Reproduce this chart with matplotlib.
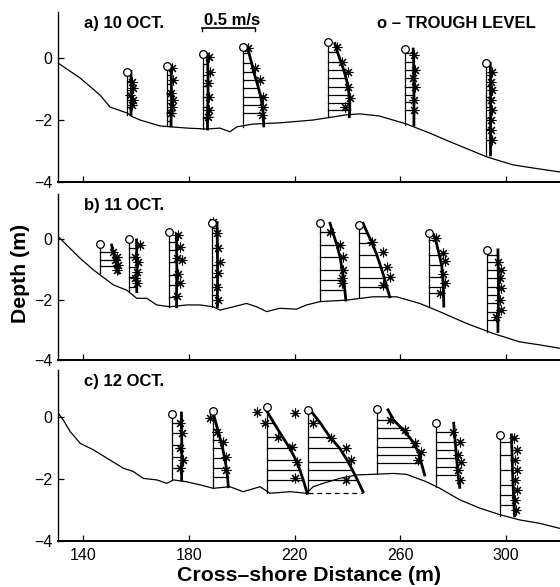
import numpy as np
import matplotlib
matplotlib.use('Agg')
import matplotlib.pyplot as plt

plt.rcParams['font.family'] = ['Liberation Sans', 'DejaVu Sans']

SCALE = 40.0  # metres of cross-shore distance drawn per 1 m/s of velocity

panel_titles = ['a) 10 OCT.', 'b) 11 OCT.', 'c) 12 OCT.']
x_ticks = [140, 180, 220, 260, 300]
y_ticks = [-4, -2, 0]

# ---- bathymetry (cross-shore distance m, depth m)
a_bed_x = [130.5, 138.8, 146.3, 150.1, 156.5, 158.8, 161.5, 169.0, 179.2, 186.8, 191.7, 195.5, 198.1,
           204.2, 214.4, 226.9, 239.7, 244.7, 252.2, 262.4, 271.1, 279.9, 292.7, 302.6, 310.1, 320.3]
a_bed_z = [-0.17, -0.65, -1.20, -1.59, -1.78, -1.91, -2.01, -2.20, -2.27, -2.30, -2.27, -2.39, -2.23,
           -2.14, -2.10, -2.01, -1.84, -1.81, -1.88, -2.14, -2.43, -2.75, -3.20, -3.46, -3.56, -3.69]
b_bed_x = [130.5, 133.7, 138.8, 143.8, 151.4, 156.4, 160.2, 164.0, 167.8, 172.8, 179.1, 184.2, 189.2,
           191.7, 196.8, 201.8, 205.6, 209.4, 214.4, 220.7, 224.5, 229.6, 239.7, 249.7, 258.6, 267.4,
           274.9, 285.1, 295.1, 305.2, 312.8, 320.3]
b_bed_z = [0.08, -0.20, -0.64, -1.02, -1.52, -1.69, -1.96, -1.96, -2.18, -2.24, -2.18, -2.18, -2.24,
           -2.35, -2.24, -2.13, -2.24, -2.40, -2.29, -2.32, -2.18, -2.07, -2.02, -1.91, -1.91, -2.13,
           -2.40, -2.79, -3.12, -3.40, -3.50, -3.61]
c_bed_x = [130.5, 132.4, 135.0, 138.8, 143.8, 150.1, 155.1, 158.9, 162.7, 167.8, 171.6, 174.1, 179.1,
           184.2, 189.2, 195.5, 200.5, 206.9, 210.7, 218.2, 224.5, 227.0, 230.8, 237.1, 243.4, 252.3,
           257.3, 262.4, 264.9, 269.9, 275.0, 282.5, 290.1, 297.7, 305.2, 312.8, 320.3]
c_bed_z = [0.11, -0.11, -0.48, -0.86, -1.07, -1.40, -1.66, -1.77, -1.99, -2.04, -2.15, -2.04, -2.10,
           -2.20, -2.31, -2.26, -2.42, -2.26, -2.47, -2.42, -2.47, -2.26, -2.15, -1.99, -1.88, -1.85,
           -1.83, -1.86, -1.94, -2.10, -2.31, -2.68, -2.95, -3.16, -3.33, -3.44, -3.60]

# ---- 10 Oct profiles
a_x0 = [156.4, 171.6, 185.4, 200.3, 232.7, 261.7, 292.3]
a_trough = [-0.44, -0.26, 0.13, 0.37, 0.53, 0.29, -0.17]
a_bottom = [-1.84, -2.20, -2.30, -2.22, -1.92, -2.17, -3.14]
a_fit_z = [[-0.44, -0.75, -1.05, -1.35, -1.60, -1.84],
           [-0.26, -0.55, -0.85, -1.15, -1.45, -1.75, -2.05, -2.20],
           [0.13, -0.20, -0.55, -0.90, -1.25, -1.60, -1.95, -2.30],
           [0.37, 0.16, -0.16, -0.45, -0.71, -0.97, -1.26, -1.52, -1.78, -2.20],
           [0.47, 0.20, -0.12, -0.39, -0.66, -0.93, -1.20, -1.47, -1.68, -1.90],
           [0.29, 0.15, -0.12, -0.39, -0.66, -0.93, -1.20, -1.41, -1.68, -2.17],
           [-0.17, -0.55, -0.90, -1.25, -1.60, -1.95, -2.30, -2.65, -3.14]]
a_fit_u = [[0.040, 0.042, 0.045, 0.045, 0.042, 0.040],
           [0.040, 0.042, 0.042, 0.045, 0.045, 0.042, 0.040, 0.040],
           [0.040, 0.042, 0.045, 0.045, 0.045, 0.042, 0.040, 0.040],
           [0.037, 0.060, 0.085, 0.105, 0.128, 0.150, 0.172, 0.185, 0.195, 0.200],
           [0.063, 0.087, 0.120, 0.148, 0.170, 0.190, 0.198, 0.204, 0.205, 0.200],
           [0.080, 0.082, 0.085, 0.085, 0.085, 0.087, 0.087, 0.087, 0.087, 0.087],
           [0.045, 0.047, 0.047, 0.048, 0.048, 0.048, 0.047, 0.047, 0.047]]
a_obs_z = [[-0.77, -0.98, -1.20, -1.36, -1.52],
           [-0.33, -0.71, -1.14, -1.36, -1.58, -1.79],
           [0.04, -0.44, -0.82, -1.25, -1.68, -1.90],
           [0.31, -0.33, -0.71, -1.25, -1.58, -1.84],
           [0.37, -0.12, -0.44, -0.93, -1.30, -1.58],
           [0.10, -0.39, -0.66, -0.93, -1.36, -1.68],
           [-0.44, -0.77, -1.04, -1.36, -1.68, -2.01, -2.33, -2.65]]
a_obs_u = [[0.053, 0.063, 0.030, 0.063, 0.048],
           [0.050, 0.062, 0.040, 0.060, 0.050, 0.042],
           [0.050, 0.060, 0.048, 0.058, 0.050, 0.045],
           [0.053, 0.120, 0.163, 0.195, 0.195, 0.180],
           [0.080, 0.128, 0.190, 0.190, 0.205, 0.158],
           [0.085, 0.095, 0.080, 0.095, 0.085, 0.092],
           [0.060, 0.055, 0.065, 0.050, 0.060, 0.055, 0.050, 0.060]]

# ---- 11 Oct profiles
b_x0 = [146.3, 157.4, 172.5, 188.6, 229.6, 244.4, 270.8, 293.0]
b_trough = [-0.18, -0.01, 0.22, 0.54, 0.54, 0.46, 0.19, -0.36]
b_bottom = [-1.11, -1.74, -2.24, -2.24, -2.02, -1.91, -2.24, -3.06]
b_fit_z = [[-0.20, -0.42, -0.69, -0.90, -1.13],
           [-0.03, -0.31, -0.59, -0.92, -1.25, -1.58, -1.74],
           [0.15, -0.10, -0.36, -0.75, -1.19, -1.52, -1.91, -2.24],
           [0.54, 0.35, -0.31, -0.86, -1.25, -1.58, -1.85, -2.24],
           [0.52, 0.24, -0.20, -0.59, -1.02, -1.36, -1.69, -2.02],
           [0.52, 0.19, -0.14, -0.53, -0.91, -1.30, -1.57, -1.91],
           [0.14, -0.03, -0.53, -0.86, -1.25, -1.58, -1.80, -2.22],
           [-0.36, -0.53, -0.75, -1.02, -1.30, -1.58, -1.85, -2.13, -2.40, -2.68, -3.06]]
b_fit_u = [[0.110, 0.125, 0.145, 0.160, 0.173],
           [0.068, 0.070, 0.070, 0.072, 0.072, 0.070, 0.070],
           [0.068, 0.070, 0.070, 0.072, 0.072, 0.070, 0.070, 0.070],
           [0.050, 0.052, 0.053, 0.055, 0.055, 0.055, 0.053, 0.053],
           [0.095, 0.120, 0.160, 0.190, 0.210, 0.225, 0.235, 0.245],
           [0.038, 0.080, 0.125, 0.168, 0.205, 0.240, 0.262, 0.290],
           [0.047, 0.065, 0.100, 0.122, 0.132, 0.138, 0.140, 0.142],
           [0.100, 0.100, 0.102, 0.102, 0.105, 0.105, 0.105, 0.103, 0.103, 0.100, 0.100]]
b_obs_z = [[-0.42, -0.59, -0.69, -0.86, -1.02],
           [-0.20, -0.59, -0.75, -1.08, -1.30, -1.46],
           [0.13, -0.25, -0.64, -0.70, -1.14, -1.46, -1.90],
           [0.57, 0.19, -0.31, -0.75, -1.13, -1.58, -2.02],
           [0.24, -0.20, -0.59, -1.02, -1.30, -1.46],
           [-0.09, -0.42, -0.92, -1.25, -1.52],
           [0.03, -0.46, -0.73, -1.17, -1.45, -1.78],
           [-0.75, -1.02, -1.30, -1.63, -2.02, -2.35, -2.57]]
b_obs_u = [[0.125, 0.158, 0.143, 0.173, 0.158],
           [0.100, 0.055, 0.085, 0.070, 0.055, 0.070],
           [0.085, 0.100, 0.070, 0.118, 0.085, 0.100, 0.070],
           [0.015, 0.048, 0.063, 0.078, 0.063, 0.048, 0.063],
           [0.095, 0.190, 0.220, 0.220, 0.205, 0.205],
           [0.118, 0.228, 0.260, 0.290, 0.228],
           [0.073, 0.136, 0.150, 0.136, 0.150, 0.104],
           [0.100, 0.130, 0.117, 0.130, 0.117, 0.130, 0.085]]

# ---- 12 Oct profiles
c_x0 = [173.4, 189.2, 209.4, 225.1, 251.2, 273.7, 297.7]
c_trough = [0.09, 0.19, 0.32, 0.22, 0.24, -0.19, -0.59]
c_bottom = [-2.04, -2.31, -2.47, -2.47, -1.85, -2.28, -3.20]
c_dashed = [False, False, False, True, False, False, False]
c_fit_z = [[0.12, -0.21, -0.54, -0.91, -1.29, -1.66, -2.04],
           [0.11, -0.40, -0.75, -1.02, -1.34, -1.66, -1.95, -2.26],
           [0.22, -0.21, -0.65, -1.02, -1.40, -1.72, -2.04, -2.47],
           [0.16, -0.21, -0.65, -1.02, -1.45, -1.72, -2.04, -2.42],
           [0.22, -0.11, -0.37, -0.70, -0.97, -1.24, -1.50, -1.88],
           [-0.21, -0.48, -0.81, -1.08, -1.34, -1.61, -1.88, -2.28],
           [-0.59, -0.81, -1.24, -1.72, -2.20, -2.53, -2.85, -3.20]]
c_fit_u = [[0.093, 0.095, 0.095, 0.097, 0.097, 0.095, 0.095],
           [0.000, 0.040, 0.068, 0.088, 0.108, 0.124, 0.135, 0.142],
           [-0.005, 0.070, 0.150, 0.220, 0.277, 0.315, 0.346, 0.384],
           [0.032, 0.117, 0.205, 0.300, 0.378, 0.420, 0.467, 0.520],
           [0.104, 0.158, 0.231, 0.316, 0.366, 0.404, 0.420, 0.451],
           [0.164, 0.170, 0.178, 0.185, 0.190, 0.198, 0.205, 0.220],
           [0.110, 0.112, 0.116, 0.120, 0.126, 0.130, 0.135, 0.140]]
c_obs_z = [[-0.21, -0.54, -1.02, -1.40, -1.66],
           [-0.05, -0.48, -0.83, -1.30, -1.72],
           [0.16, -0.21, -0.65, -0.97, -1.45, -1.99],
           [0.11, -0.21, -0.70, -1.02, -1.40, -2.04],
           [-0.11, -0.43, -0.86, -1.13, -1.40],
           [-0.48, -0.81, -1.24, -1.45, -1.72, -2.04],
           [-0.70, -1.07, -1.40, -1.72, -2.04, -2.36, -2.69, -3.01]]
c_obs_u = [[0.078, 0.095, 0.078, 0.105, 0.078],
           [-0.035, 0.035, 0.090, 0.120, 0.125],
           [-0.095, -0.015, 0.110, 0.236, 0.283, 0.268],
           [-0.126, 0.047, 0.220, 0.363, 0.410, 0.363],
           [0.120, 0.262, 0.357, 0.420, 0.388],
           [0.157, 0.220, 0.205, 0.236, 0.205, 0.220],
           [0.130, 0.160, 0.140, 0.165, 0.140, 0.160, 0.145, 0.150]]

scale_bar_u = 0.5


def draw_panel(ax, bed_x, bed_z, x0s, troughs, bottoms, fit_z, fit_u, obs_z, obs_u, dashed=None):
    ax.plot(bed_x, bed_z, color='k', lw=0.9)
    for i, x0 in enumerate(x0s):
        zc = np.asarray(fit_z[i])
        xc = x0 + SCALE * np.asarray(fit_u[i])
        ax.plot([x0, x0], [bottoms[i], troughs[i]], color='k', lw=0.9)
        for z, x in zip(zc[1:-1], xc[1:-1]):
            ax.plot([x0, x], [z, z], color='k', lw=0.9)
        ax.plot(xc, zc, color='k', lw=2.0)
        # measured values: 8-armed asterisk like the original
        ax.plot(x0 + SCALE * np.asarray(obs_u[i]), obs_z[i], ls='none',
                marker=(8, 2, 0), ms=7, mec='k', mew=0.8)
        if dashed is not None and dashed[i]:
            ax.plot([x0, xc[-1]], [bottoms[i], bottoms[i]], color='k', lw=0.9, ls=(0, (4, 3)))
        ax.plot(x0, troughs[i], 'o', ms=5.5, mfc='white', mec='k', mew=0.9, zorder=5)


fig = plt.figure(figsize=(5.6, 5.87), dpi=100)
positions = [[0.1041, 0.6908, 0.8959, 0.2893],
             [0.1041, 0.3867, 0.8959, 0.2834],
             [0.1041, 0.0789, 0.8959, 0.2905]]
axes = [fig.add_axes(p) for p in positions]

draw_panel(axes[0], a_bed_x, a_bed_z, a_x0, a_trough, a_bottom, a_fit_z, a_fit_u, a_obs_z, a_obs_u)
draw_panel(axes[1], b_bed_x, b_bed_z, b_x0, b_trough, b_bottom, b_fit_z, b_fit_u, b_obs_z, b_obs_u)
draw_panel(axes[2], c_bed_x, c_bed_z, c_x0, c_trough, c_bottom, c_fit_z, c_fit_u, c_obs_z, c_obs_u,
           c_dashed)

title_z = [1.13, 1.12, 1.15]
for ax, title, tz in zip(axes, panel_titles, title_z):
    ax.set_xlim(130.5, 320.5)
    ax.set_ylim(-4, 1.5)
    ax.set_xticks(x_ticks)
    ax.set_yticks(y_ticks)
    for side in ('top', 'right'):
        ax.spines[side].set_visible(False)
    ax.spines['left'].set_linewidth(1.0)
    ax.spines['bottom'].set_linewidth(1.4)
    ax.tick_params(direction='in', length=4, width=0.9, labelsize=11.5)
    ax.tick_params(axis='y', pad=4)
    ax.tick_params(axis='x', pad=5)
    ax.text(140.3, tz, title, fontsize=12, fontweight='bold', ha='left', va='center')
    ax.patch.set_visible(False)

for ax in axes[:2]:
    ax.tick_params(axis='x', labelbottom=False)

# velocity scale bar and legend in panel a
ax = axes[0]
bar_x0 = 185.0
bar_z = 0.97
ax.plot([bar_x0, bar_x0 + SCALE * scale_bar_u], [bar_z, bar_z], color='k', lw=1.2)
ax.plot([bar_x0, bar_x0], [bar_z, bar_z - 0.1], color='k', lw=1.0)
ax.plot([bar_x0 + SCALE * scale_bar_u] * 2, [bar_z, bar_z - 0.1], color='k', lw=1.0)
ax.text(185.7, 1.23, '0.5 m/s', fontsize=12, fontweight='bold', ha='left', va='center')
ax.text(251.1, 1.13, 'o \u2013 TROUGH LEVEL', fontsize=12, fontweight='bold', ha='left', va='center')

fig.text(0.036, 0.535, 'Depth (m)', rotation=90, fontsize=15.3, fontweight='bold',
         ha='center', va='center')
fig.text(0.551, 0.0204, 'Cross\u2013shore Distance (m)', fontsize=15.3, fontweight='bold',
         ha='center', va='center')

fig.savefig('out.png', dpi=100)
